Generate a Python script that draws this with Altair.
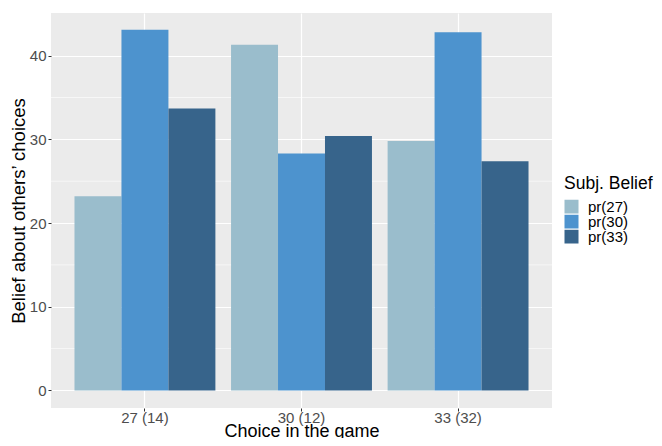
import altair as alt
import pandas as pd

choices = ["27 (14)", "30 (12)", "33 (32)"]
beliefs = ["pr(27)", "pr(30)", "pr(33)"]
pr27 = [23.2, 41.3, 29.8]
pr30 = [43.1, 28.3, 42.8]
pr33 = [33.7, 30.4, 27.4]
minor_breaks = [5, 15, 25, 35]
colors = ["#9abdcc", "#4d93ce", "#37648b"]

rows = []
for i, c in enumerate(choices):
    for b, vals in zip(beliefs, [pr27, pr30, pr33]):
        rows.append({"choice": c, "belief": b, "value": vals[i]})
df = pd.DataFrame(rows)
minor_df = pd.DataFrame({"v": minor_breaks})

yscale = alt.Scale(domain=[-2.1, 45.1], nice=False, zero=False)
FONT = "Liberation Sans"

minor = alt.Chart(minor_df).mark_rule(color="white", strokeWidth=0.6).encode(
    y=alt.Y("v:Q", scale=yscale)
)

bars = alt.Chart(df).mark_bar(width={"band": 1}).encode(
    x=alt.X("choice:N", sort=choices, title="Choice in the game",
            scale=alt.Scale(paddingInner=0.1, paddingOuter=0.15),
            axis=alt.Axis(labelAngle=0, bandPosition=0.5, grid=True, labelPadding=-1,
                          titleFontSize=18, titleBaseline="alphabetic", titleY=28.5)),
    xOffset=alt.XOffset("belief:N", sort=beliefs, scale=alt.Scale(paddingInner=0, paddingOuter=0)),
    y=alt.Y("value:Q", scale=yscale, stack=None, title="Belief about others\u2019 choices",
            axis=alt.Axis(values=[0, 10, 20, 30, 40], labelPadding=2, titlePadding=1,
                          titleFontSize=18.5)),
    y2=alt.datum(0),
    color=alt.Color("belief:N", sort=beliefs, title="Subj. Belief",
                    scale=alt.Scale(domain=beliefs, range=colors),
                    legend=alt.Legend(orient="none", legendX=513, legendY=162,
                                      symbolType="square", symbolSize=196,
                                      symbolStrokeWidth=0, rowPadding=0, clipHeight=14,
                                      titlePadding=7, labelOffset=9)),
)

chart = alt.layer(minor, bars).properties(
    width=501, height=395,
    autosize=alt.AutoSizeParams(type="none"),
    padding={"left": 43, "top": 5, "right": 102, "bottom": 30},
).configure_view(fill="#ebebeb", stroke=None).configure_axis(
    gridColor="white", gridWidth=1.2, domain=False,
    tickColor="#333333", tickSize=3, tickWidth=1,
    labelColor="#4d4d4d", labelFontSize=15, labelFont=FONT,
    titleFont=FONT, titleColor="black", titleFontWeight="normal",
).configure_legend(
    titleFont=FONT, titleFontSize=17.5, titleFontWeight="normal", titleColor="black",
    labelFont=FONT, labelFontSize=15, labelColor="black",
)

chart.save("out.html", embed_options={"renderer": "svg", "actions": False})
